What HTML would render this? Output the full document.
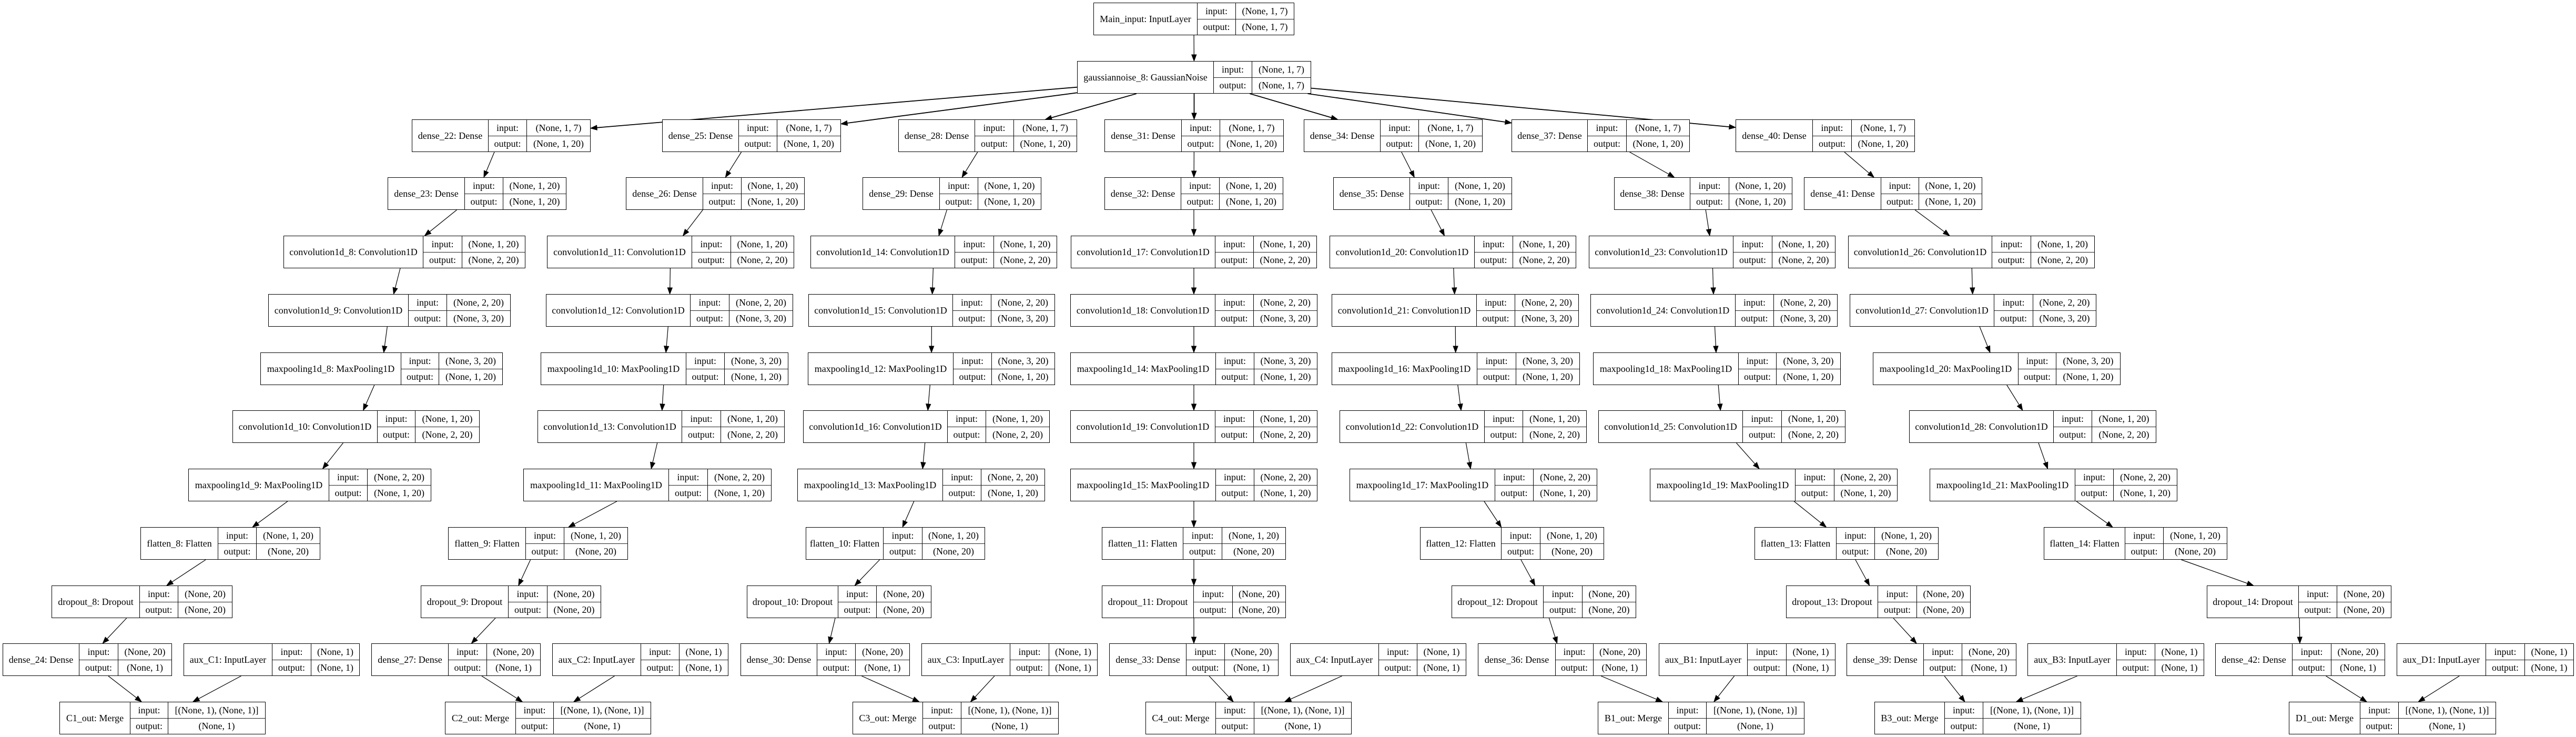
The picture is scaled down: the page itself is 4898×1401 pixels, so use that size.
<!DOCTYPE html>
<html><head><meta charset="utf-8"><style>
html,body{margin:0;padding:0;background:#fff}
body{width:4898px;height:1401px;position:relative;overflow:hidden}
.n{position:absolute;display:grid;height:62px;border:1.3px solid #000;box-sizing:border-box;grid-template-rows:1fr 1fr;font:18px "Liberation Serif",serif;background:#fff;color:#000}
.n>*{display:flex;align-items:center;justify-content:center;white-space:nowrap;font-style:normal;font-weight:normal;overflow:hidden}
.n>b{grid-row:1/3;border-right:1px solid #000}
.n>i{border-right:1px solid #000}
.n>:nth-child(4),.n>:nth-child(5){border-top:1px solid #222}
.r0{top:5px}.r1{top:116px}.r2{top:227px}.r3{top:337px}.r4{top:448px}.r5{top:559px}.r6{top:670px}.r7{top:780px}.r8{top:891px}.r9{top:1002px}.r10{top:1113px}.r11{top:1223px}.r12{top:1334px}
svg{position:absolute;left:0;top:0}
</style></head><body>
<svg id="sv" width="4898" height="1401"></svg>

<div class="n r0" id="main" style="left:2079px;grid-template-columns:197px 73px 110px"><b>Main_input: InputLayer</b><i>input:</i><span>(None, 1, 7)</span><i>output:</i><span>(None, 1, 7)</span></div>
<div class="n r1" id="gn" style="left:2048px;grid-template-columns:259px 73px 111px"><b>gaussiannoise_8: GaussianNoise</b><i>input:</i><span>(None, 1, 7)</span><i>output:</i><span>(None, 1, 7)</span></div>

<div class="n r2" id="d22" style="left:783px;grid-template-columns:145px 73px 120px"><b>dense_22: Dense</b><i>input:</i><span>(None, 1, 7)</span><i>output:</i><span>(None, 1, 20)</span></div>
<div class="n r2" id="d25" style="left:1259px;grid-template-columns:145px 73px 120px"><b>dense_25: Dense</b><i>input:</i><span>(None, 1, 7)</span><i>output:</i><span>(None, 1, 20)</span></div>
<div class="n r2" id="d28" style="left:1708px;grid-template-columns:145px 74px 119px"><b>dense_28: Dense</b><i>input:</i><span>(None, 1, 7)</span><i>output:</i><span>(None, 1, 20)</span></div>
<div class="n r2" id="d31" style="left:2100px;grid-template-columns:146px 73px 120px"><b>dense_31: Dense</b><i>input:</i><span>(None, 1, 7)</span><i>output:</i><span>(None, 1, 20)</span></div>
<div class="n r2" id="d34" style="left:2479px;grid-template-columns:145px 73px 120px"><b>dense_34: Dense</b><i>input:</i><span>(None, 1, 7)</span><i>output:</i><span>(None, 1, 20)</span></div>
<div class="n r2" id="d37" style="left:2874px;grid-template-columns:144px 74px 119px"><b>dense_37: Dense</b><i>input:</i><span>(None, 1, 7)</span><i>output:</i><span>(None, 1, 20)</span></div>
<div class="n r2" id="d40" style="left:3300px;grid-template-columns:146px 74px 119px"><b>dense_40: Dense</b><i>input:</i><span>(None, 1, 7)</span><i>output:</i><span>(None, 1, 20)</span></div>

<div class="n r3" id="d23" style="left:737px;grid-template-columns:146px 73px 119px"><b>dense_23: Dense</b><i>input:</i><span>(None, 1, 20)</span><i>output:</i><span>(None, 1, 20)</span></div>
<div class="n r3" id="d26" style="left:1190px;grid-template-columns:146px 73px 119px"><b>dense_26: Dense</b><i>input:</i><span>(None, 1, 20)</span><i>output:</i><span>(None, 1, 20)</span></div>
<div class="n r3" id="d29" style="left:1640px;grid-template-columns:146px 73px 119px"><b>dense_29: Dense</b><i>input:</i><span>(None, 1, 20)</span><i>output:</i><span>(None, 1, 20)</span></div>
<div class="n r3" id="d32" style="left:2100px;grid-template-columns:145px 73px 120px"><b>dense_32: Dense</b><i>input:</i><span>(None, 1, 20)</span><i>output:</i><span>(None, 1, 20)</span></div>
<div class="n r3" id="d35" style="left:2535px;grid-template-columns:145px 73px 120px"><b>dense_35: Dense</b><i>input:</i><span>(None, 1, 20)</span><i>output:</i><span>(None, 1, 20)</span></div>
<div class="n r3" id="d38" style="left:3069px;grid-template-columns:144px 74px 119px"><b>dense_38: Dense</b><i>input:</i><span>(None, 1, 20)</span><i>output:</i><span>(None, 1, 20)</span></div>
<div class="n r3" id="d41" style="left:3430px;grid-template-columns:146px 72px 119px"><b>dense_41: Dense</b><i>input:</i><span>(None, 1, 20)</span><i>output:</i><span>(None, 1, 20)</span></div>

<div class="n r4" id="c8" style="left:539px;grid-template-columns:265px 74px 119px"><b>convolution1d_8: Convolution1D</b><i>input:</i><span>(None, 1, 20)</span><i>output:</i><span>(None, 2, 20)</span></div>
<div class="n r4" id="c11" style="left:1040px;grid-template-columns:275px 74px 119px"><b>convolution1d_11: Convolution1D</b><i>input:</i><span>(None, 1, 20)</span><i>output:</i><span>(None, 2, 20)</span></div>
<div class="n r4" id="c14" style="left:1541px;grid-template-columns:274px 74px 119px"><b>convolution1d_14: Convolution1D</b><i>input:</i><span>(None, 1, 20)</span><i>output:</i><span>(None, 2, 20)</span></div>
<div class="n r4" id="c17" style="left:2036px;grid-template-columns:274px 73px 119px"><b>convolution1d_17: Convolution1D</b><i>input:</i><span>(None, 1, 20)</span><i>output:</i><span>(None, 2, 20)</span></div>
<div class="n r4" id="c20" style="left:2528px;grid-template-columns:275px 73px 119px"><b>convolution1d_20: Convolution1D</b><i>input:</i><span>(None, 1, 20)</span><i>output:</i><span>(None, 2, 20)</span></div>
<div class="n r4" id="c23" style="left:3021px;grid-template-columns:274px 74px 119px"><b>convolution1d_23: Convolution1D</b><i>input:</i><span>(None, 1, 20)</span><i>output:</i><span>(None, 2, 20)</span></div>
<div class="n r4" id="c26" style="left:3514px;grid-template-columns:273px 74px 120px"><b>convolution1d_26: Convolution1D</b><i>input:</i><span>(None, 1, 20)</span><i>output:</i><span>(None, 2, 20)</span></div>

<div class="n r5" id="c9" style="left:510px;grid-template-columns:266px 73px 120px"><b>convolution1d_9: Convolution1D</b><i>input:</i><span>(None, 2, 20)</span><i>output:</i><span>(None, 3, 20)</span></div>
<div class="n r5" id="c12" style="left:1038px;grid-template-columns:274px 74px 120px"><b>convolution1d_12: Convolution1D</b><i>input:</i><span>(None, 2, 20)</span><i>output:</i><span>(None, 3, 20)</span></div>
<div class="n r5" id="c15" style="left:1537px;grid-template-columns:274px 73px 120px"><b>convolution1d_15: Convolution1D</b><i>input:</i><span>(None, 2, 20)</span><i>output:</i><span>(None, 3, 20)</span></div>
<div class="n r5" id="c18" style="left:2035px;grid-template-columns:275px 73px 120px"><b>convolution1d_18: Convolution1D</b><i>input:</i><span>(None, 2, 20)</span><i>output:</i><span>(None, 3, 20)</span></div>
<div class="n r5" id="c21" style="left:2532px;grid-template-columns:275px 73px 120px"><b>convolution1d_21: Convolution1D</b><i>input:</i><span>(None, 2, 20)</span><i>output:</i><span>(None, 3, 20)</span></div>
<div class="n r5" id="c24" style="left:3024px;grid-template-columns:275px 73px 120px"><b>convolution1d_24: Convolution1D</b><i>input:</i><span>(None, 2, 20)</span><i>output:</i><span>(None, 3, 20)</span></div>
<div class="n r5" id="c27" style="left:3517px;grid-template-columns:274px 74px 119px"><b>convolution1d_27: Convolution1D</b><i>input:</i><span>(None, 2, 20)</span><i>output:</i><span>(None, 3, 20)</span></div>

<div class="n r6" id="mp8" style="left:495px;grid-template-columns:267px 72px 120px"><b>maxpooling1d_8: MaxPooling1D</b><i>input:</i><span>(None, 3, 20)</span><i>output:</i><span>(None, 1, 20)</span></div>
<div class="n r6" id="mp10" style="left:1028px;grid-template-columns:276px 73px 120px"><b>maxpooling1d_10: MaxPooling1D</b><i>input:</i><span>(None, 3, 20)</span><i>output:</i><span>(None, 1, 20)</span></div>
<div class="n r6" id="mp12" style="left:1536px;grid-template-columns:276px 73px 119px"><b>maxpooling1d_12: MaxPooling1D</b><i>input:</i><span>(None, 3, 20)</span><i>output:</i><span>(None, 1, 20)</span></div>
<div class="n r6" id="mp14" style="left:2035px;grid-template-columns:276px 73px 119px"><b>maxpooling1d_14: MaxPooling1D</b><i>input:</i><span>(None, 3, 20)</span><i>output:</i><span>(None, 1, 20)</span></div>
<div class="n r6" id="mp16" style="left:2532px;grid-template-columns:276px 74px 120px"><b>maxpooling1d_16: MaxPooling1D</b><i>input:</i><span>(None, 3, 20)</span><i>output:</i><span>(None, 1, 20)</span></div>
<div class="n r6" id="mp18" style="left:3029px;grid-template-columns:276px 72px 121px"><b>maxpooling1d_18: MaxPooling1D</b><i>input:</i><span>(None, 3, 20)</span><i>output:</i><span>(None, 1, 20)</span></div>
<div class="n r6" id="mp20" style="left:3561px;grid-template-columns:276px 72px 121px"><b>maxpooling1d_20: MaxPooling1D</b><i>input:</i><span>(None, 3, 20)</span><i>output:</i><span>(None, 1, 20)</span></div>

<div class="n r7" id="c10" style="left:442px;grid-template-columns:275px 72px 121px"><b>convolution1d_10: Convolution1D</b><i>input:</i><span>(None, 1, 20)</span><i>output:</i><span>(None, 2, 20)</span></div>
<div class="n r7" id="c13" style="left:1022px;grid-template-columns:274px 74px 120px"><b>convolution1d_13: Convolution1D</b><i>input:</i><span>(None, 1, 20)</span><i>output:</i><span>(None, 2, 20)</span></div>
<div class="n r7" id="c16" style="left:1527px;grid-template-columns:274px 73px 120px"><b>convolution1d_16: Convolution1D</b><i>input:</i><span>(None, 1, 20)</span><i>output:</i><span>(None, 2, 20)</span></div>
<div class="n r7" id="c19" style="left:2035px;grid-template-columns:275px 73px 120px"><b>convolution1d_19: Convolution1D</b><i>input:</i><span>(None, 1, 20)</span><i>output:</i><span>(None, 2, 20)</span></div>
<div class="n r7" id="c22" style="left:2547px;grid-template-columns:275px 73px 120px"><b>convolution1d_22: Convolution1D</b><i>input:</i><span>(None, 1, 20)</span><i>output:</i><span>(None, 2, 20)</span></div>
<div class="n r7" id="c25" style="left:3039px;grid-template-columns:274px 74px 120px"><b>convolution1d_25: Convolution1D</b><i>input:</i><span>(None, 1, 20)</span><i>output:</i><span>(None, 2, 20)</span></div>
<div class="n r7" id="c28" style="left:3630px;grid-template-columns:274px 73px 121px"><b>convolution1d_28: Convolution1D</b><i>input:</i><span>(None, 1, 20)</span><i>output:</i><span>(None, 2, 20)</span></div>

<div class="n r8" id="mp9" style="left:358px;grid-template-columns:267px 73px 120px"><b>maxpooling1d_9: MaxPooling1D</b><i>input:</i><span>(None, 2, 20)</span><i>output:</i><span>(None, 1, 20)</span></div>
<div class="n r8" id="mp11" style="left:995px;grid-template-columns:276px 74px 120px"><b>maxpooling1d_11: MaxPooling1D</b><i>input:</i><span>(None, 2, 20)</span><i>output:</i><span>(None, 1, 20)</span></div>
<div class="n r8" id="mp13" style="left:1516px;grid-template-columns:276px 73px 120px"><b>maxpooling1d_13: MaxPooling1D</b><i>input:</i><span>(None, 2, 20)</span><i>output:</i><span>(None, 1, 20)</span></div>
<div class="n r8" id="mp15" style="left:2035px;grid-template-columns:276px 73px 119px"><b>maxpooling1d_15: MaxPooling1D</b><i>input:</i><span>(None, 2, 20)</span><i>output:</i><span>(None, 1, 20)</span></div>
<div class="n r8" id="mp17" style="left:2566px;grid-template-columns:276px 73px 120px"><b>maxpooling1d_17: MaxPooling1D</b><i>input:</i><span>(None, 2, 20)</span><i>output:</i><span>(None, 1, 20)</span></div>
<div class="n r8" id="mp19" style="left:3137px;grid-template-columns:276px 74px 119px"><b>maxpooling1d_19: MaxPooling1D</b><i>input:</i><span>(None, 2, 20)</span><i>output:</i><span>(None, 1, 20)</span></div>
<div class="n r8" id="mp21" style="left:3669px;grid-template-columns:276px 73px 120px"><b>maxpooling1d_21: MaxPooling1D</b><i>input:</i><span>(None, 2, 20)</span><i>output:</i><span>(None, 1, 20)</span></div>

<div class="n r9" id="f8" style="left:267px;grid-template-columns:147px 73px 120px"><b>flatten_8: Flatten</b><i>input:</i><span>(None, 1, 20)</span><i>output:</i><span>(None, 20)</span></div>
<div class="n r9" id="f9" style="left:852px;grid-template-columns:147px 73px 120px"><b>flatten_9: Flatten</b><i>input:</i><span>(None, 1, 20)</span><i>output:</i><span>(None, 20)</span></div>
<div class="n r9" id="f10" style="left:1532px;grid-template-columns:147px 74px 118px"><b>flatten_10: Flatten</b><i>input:</i><span>(None, 1, 20)</span><i>output:</i><span>(None, 20)</span></div>
<div class="n r9" id="f11" style="left:2095px;grid-template-columns:154px 74px 120px"><b>flatten_11: Flatten</b><i>input:</i><span>(None, 1, 20)</span><i>output:</i><span>(None, 20)</span></div>
<div class="n r9" id="f12" style="left:2700px;grid-template-columns:154px 74px 120px"><b>flatten_12: Flatten</b><i>input:</i><span>(None, 1, 20)</span><i>output:</i><span>(None, 20)</span></div>
<div class="n r9" id="f13" style="left:3336px;grid-template-columns:155px 73px 120px"><b>flatten_13: Flatten</b><i>input:</i><span>(None, 1, 20)</span><i>output:</i><span>(None, 20)</span></div>
<div class="n r9" id="f14" style="left:3886px;grid-template-columns:154px 73px 120px"><b>flatten_14: Flatten</b><i>input:</i><span>(None, 1, 20)</span><i>output:</i><span>(None, 20)</span></div>

<div class="n r10" id="do8" style="left:98px;grid-template-columns:167px 73px 102px"><b>dropout_8: Dropout</b><i>input:</i><span>(None, 20)</span><i>output:</i><span>(None, 20)</span></div>
<div class="n r10" id="do9" style="left:800px;grid-template-columns:166px 74px 101px"><b>dropout_9: Dropout</b><i>input:</i><span>(None, 20)</span><i>output:</i><span>(None, 20)</span></div>
<div class="n r10" id="do10" style="left:1420px;grid-template-columns:173px 73px 103px"><b>dropout_10: Dropout</b><i>input:</i><span>(None, 20)</span><i>output:</i><span>(None, 20)</span></div>
<div class="n r10" id="do11" style="left:2095px;grid-template-columns:174px 74px 100px"><b>dropout_11: Dropout</b><i>input:</i><span>(None, 20)</span><i>output:</i><span>(None, 20)</span></div>
<div class="n r10" id="do12" style="left:2760px;grid-template-columns:174px 74px 101px"><b>dropout_12: Dropout</b><i>input:</i><span>(None, 20)</span><i>output:</i><span>(None, 20)</span></div>
<div class="n r10" id="do13" style="left:3396px;grid-template-columns:174px 74px 101px"><b>dropout_13: Dropout</b><i>input:</i><span>(None, 20)</span><i>output:</i><span>(None, 20)</span></div>
<div class="n r10" id="do14" style="left:4196px;grid-template-columns:174px 73px 102px"><b>dropout_14: Dropout</b><i>input:</i><span>(None, 20)</span><i>output:</i><span>(None, 20)</span></div>

<div class="n r11" id="d24" style="left:5px;grid-template-columns:145px 74px 101px"><b>dense_24: Dense</b><i>input:</i><span>(None, 20)</span><i>output:</i><span>(None, 1)</span></div>
<div class="n r11" id="aC1" style="left:349px;grid-template-columns:168px 74px 91px"><b>aux_C1: InputLayer</b><i>input:</i><span>(None, 1)</span><i>output:</i><span>(None, 1)</span></div>
<div class="n r11" id="d27" style="left:706px;grid-template-columns:146px 73px 101px"><b>dense_27: Dense</b><i>input:</i><span>(None, 20)</span><i>output:</i><span>(None, 1)</span></div>
<div class="n r11" id="aC2" style="left:1050px;grid-template-columns:168px 73px 92px"><b>aux_C2: InputLayer</b><i>input:</i><span>(None, 1)</span><i>output:</i><span>(None, 1)</span></div>
<div class="n r11" id="d30" style="left:1408px;grid-template-columns:145px 73px 102px"><b>dense_30: Dense</b><i>input:</i><span>(None, 20)</span><i>output:</i><span>(None, 1)</span></div>
<div class="n r11" id="aC3" style="left:1752px;grid-template-columns:168px 74px 91px"><b>aux_C3: InputLayer</b><i>input:</i><span>(None, 1)</span><i>output:</i><span>(None, 1)</span></div>
<div class="n r11" id="d33" style="left:2109px;grid-template-columns:146px 73px 101px"><b>dense_33: Dense</b><i>input:</i><span>(None, 20)</span><i>output:</i><span>(None, 1)</span></div>
<div class="n r11" id="aC4" style="left:2453px;grid-template-columns:168px 73px 92px"><b>aux_C4: InputLayer</b><i>input:</i><span>(None, 1)</span><i>output:</i><span>(None, 1)</span></div>
<div class="n r11" id="d36" style="left:2810px;grid-template-columns:147px 72px 100px"><b>dense_36: Dense</b><i>input:</i><span>(None, 20)</span><i>output:</i><span>(None, 1)</span></div>
<div class="n r11" id="aB1" style="left:3154px;grid-template-columns:168px 74px 92px"><b>aux_B1: InputLayer</b><i>input:</i><span>(None, 1)</span><i>output:</i><span>(None, 1)</span></div>
<div class="n r11" id="d39" style="left:3511px;grid-template-columns:146px 73px 102px"><b>dense_39: Dense</b><i>input:</i><span>(None, 20)</span><i>output:</i><span>(None, 1)</span></div>
<div class="n r11" id="aB3" style="left:3855px;grid-template-columns:169px 73px 92px"><b>aux_B3: InputLayer</b><i>input:</i><span>(None, 1)</span><i>output:</i><span>(None, 1)</span></div>
<div class="n r11" id="d42" style="left:4212px;grid-template-columns:146px 74px 101px"><b>dense_42: Dense</b><i>input:</i><span>(None, 20)</span><i>output:</i><span>(None, 1)</span></div>
<div class="n r11" id="aD1" style="left:4557px;grid-template-columns:169px 74px 92px"><b>aux_D1: InputLayer</b><i>input:</i><span>(None, 1)</span><i>output:</i><span>(None, 1)</span></div>

<div class="n r12" id="C1" style="left:113px;grid-template-columns:134px 72px 184px"><b>C1_out: Merge</b><i>input:</i><span>[(None, 1), (None, 1)]</span><i>output:</i><span>(None, 1)</span></div>
<div class="n r12" id="C2" style="left:846px;grid-template-columns:134px 72px 184px"><b>C2_out: Merge</b><i>input:</i><span>[(None, 1), (None, 1)]</span><i>output:</i><span>(None, 1)</span></div>
<div class="n r12" id="C3" style="left:1621px;grid-template-columns:133px 73px 184px"><b>C3_out: Merge</b><i>input:</i><span>[(None, 1), (None, 1)]</span><i>output:</i><span>(None, 1)</span></div>
<div class="n r12" id="C4" style="left:2178px;grid-template-columns:133px 73px 184px"><b>C4_out: Merge</b><i>input:</i><span>[(None, 1), (None, 1)]</span><i>output:</i><span>(None, 1)</span></div>
<div class="n r12" id="B1" style="left:3038px;grid-template-columns:134px 72px 185px"><b>B1_out: Merge</b><i>input:</i><span>[(None, 1), (None, 1)]</span><i>output:</i><span>(None, 1)</span></div>
<div class="n r12" id="B3" style="left:3564px;grid-template-columns:133px 73px 185px"><b>B3_out: Merge</b><i>input:</i><span>[(None, 1), (None, 1)]</span><i>output:</i><span>(None, 1)</span></div>
<div class="n r12" id="D1" style="left:4352px;grid-template-columns:135px 73px 184px"><b>D1_out: Merge</b><i>input:</i><span>[(None, 1), (None, 1)]</span><i>output:</i><span>(None, 1)</span></div>

<script>
(function(){
var cols=[
["d22","d23","c8","c9","mp8","c10","mp9","f8","do8","d24","aC1","C1"],
["d25","d26","c11","c12","mp10","c13","mp11","f9","do9","d27","aC2","C2"],
["d28","d29","c14","c15","mp12","c16","mp13","f10","do10","d30","aC3","C3"],
["d31","d32","c17","c18","mp14","c19","mp15","f11","do11","d33","aC4","C4"],
["d34","d35","c20","c21","mp16","c22","mp17","f12","do12","d36","aB1","B1"],
["d37","d38","c23","c24","mp18","c25","mp19","f13","do13","d39","aB3","B3"],
["d40","d41","c26","c27","mp20","c28","mp21","f14","do14","d42","aD1","D1"]];
var E=[["main","gn"]];
cols.forEach(function(c){
 E.push(["gn",c[0]]);
 for(var i=0;i<9;i++)E.push([c[i],c[i+1]]);
 E.push([c[9],c[11]]);E.push([c[10],c[11]]);
});
function box(id){var e=document.getElementById(id);return{x:e.offsetLeft,y:e.offsetTop,w:e.offsetWidth,h:e.offsetHeight};}
function clip(b,cx,cy,dx,dy){
 var t=Infinity;
 if(dx>0)t=Math.min(t,(b.x+b.w-cx)/dx);if(dx<0)t=Math.min(t,(b.x-cx)/dx);
 if(dy>0)t=Math.min(t,(b.y+b.h-cy)/dy);if(dy<0)t=Math.min(t,(b.y-cy)/dy);
 return t;}
var s='';
E.forEach(function(e){
 var a=box(e[0]),b=box(e[1]);
 var ax=a.x+a.w/2,ay=a.y+a.h/2,bx=b.x+b.w/2,by=b.y+b.h/2;
 var dx=bx-ax,dy=by-ay;
 var t1=clip(a,ax,ay,dx,dy);
 var t2=clip(b,bx,by,-dx,-dy);
 var sx=ax+dx*t1,sy=ay+dy*t1,ex=bx-dx*t2,ey=by-dy*t2;
 var L=Math.sqrt((ex-sx)*(ex-sx)+(ey-sy)*(ey-sy)),ux=(ex-sx)/L,uy=(ey-sy)/L;
 var al=12,aw=4.5;
 var bx0=ex-ux*al,by0=ey-uy*al;
 var sw=e[0]=="gn"?1.8:1.2;
 s+='<line x1="'+sx.toFixed(1)+'" y1="'+sy.toFixed(1)+'" x2="'+bx0.toFixed(1)+'" y2="'+by0.toFixed(1)+'" stroke="#000" stroke-width="'+sw+'"/>';
 s+='<polygon points="'+ex.toFixed(1)+','+ey.toFixed(1)+' '+(bx0-uy*aw).toFixed(1)+','+(by0+ux*aw).toFixed(1)+' '+(bx0+uy*aw).toFixed(1)+','+(by0-ux*aw).toFixed(1)+'" fill="#000" stroke="#000"/>';
});
document.getElementById('sv').innerHTML=s;
})();
</script>
</body></html>
